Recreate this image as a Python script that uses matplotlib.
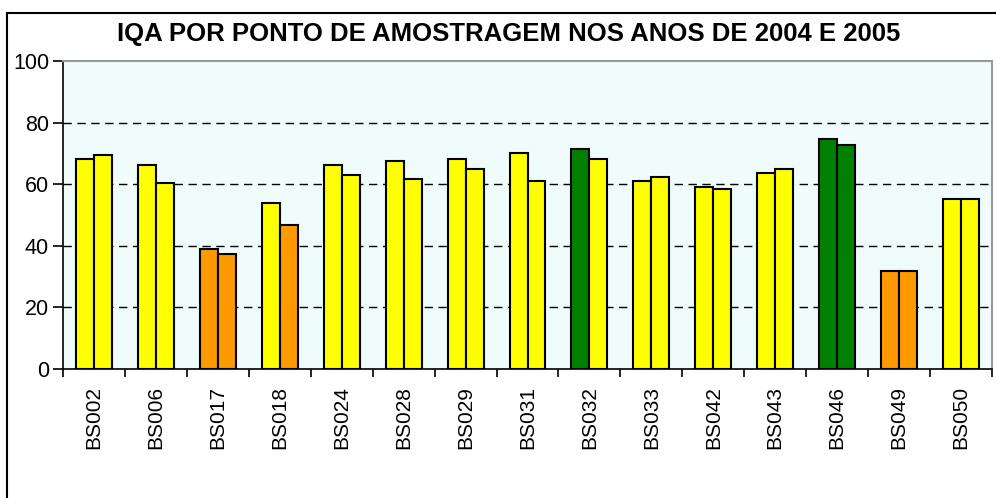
import numpy as np
import matplotlib
matplotlib.use('Agg')
import matplotlib.pyplot as plt
from matplotlib.lines import Line2D

plt.rcParams['font.family'] = ['Liberation Sans', 'DejaVu Sans']

# Dados IQA por ponto de amostragem
pontos = ['BS002', 'BS006', 'BS017', 'BS018', 'BS024', 'BS028', 'BS029', 'BS031',
          'BS032', 'BS033', 'BS042', 'BS043', 'BS046', 'BS049', 'BS050']
iqa_2004 = [68.1, 66.2, 39.0, 53.9, 66.2, 67.5, 68.1, 70.0,
            71.3, 60.9, 59.1, 63.5, 74.8, 31.7, 55.1]
iqa_2005 = [69.5, 60.4, 37.5, 46.6, 63.0, 61.7, 64.8, 60.9,
            68.1, 62.3, 58.3, 64.8, 72.7, 31.7, 55.1]


def cor_iqa(v):
    # faixas de qualidade
    if v > 70:
        return '#008000'
    if v > 50:
        return '#FFFF00'
    return '#FF9900'


fig = plt.figure(figsize=(9.96, 4.98), dpi=100)
ax = fig.add_axes([63 / 996, 1 - 369 / 498, (992 - 63) / 996, (369 - 61) / 498])

x = np.arange(len(pontos))
w = 0.29
ax.bar(x - w / 2, iqa_2004, w, color=[cor_iqa(v) for v in iqa_2004],
       edgecolor='black', linewidth=1.5, zorder=3)
ax.bar(x + w / 2, iqa_2005, w, color=[cor_iqa(v) for v in iqa_2005],
       edgecolor='black', linewidth=1.5, zorder=3)

ax.set_facecolor('#F0FBFB')
ax.set_xlim(-0.5, len(pontos) - 0.5)
ax.set_ylim(0, 100)
ax.set_yticks([0, 20, 40, 60, 80, 100])
for yv in [20, 40, 60, 80]:
    ax.axhline(yv, color='black', linestyle=(0, (6, 4)), linewidth=1.0, zorder=1)

ax.set_xticks(x)
ax.set_xticklabels(pontos, rotation=90, fontsize=15)
ax.tick_params(axis='x', length=0, pad=12)
ax.set_xticks(np.arange(len(pontos) + 1) - 0.5, minor=True)
ax.tick_params(axis='x', which='minor', length=6, width=1.2, direction='out', color='black')
ax.tick_params(axis='y', labelsize=15.5, length=7, width=1.2, direction='out', pad=3)

for s in ['top', 'right']:
    ax.spines[s].set_color('#999999')
    ax.spines[s].set_linewidth(1.5)
ax.spines['left'].set_color('black')
ax.spines['left'].set_linewidth(1.2)
ax.spines['bottom'].set_color('black')
ax.spines['bottom'].set_linewidth(1.2)

fig.text(509 / 996, 1 - 34 / 498, 'IQA POR PONTO DE AMOSTRAGEM NOS ANOS DE 2004 E 2005',
         ha='center', va='center', fontsize=18.5, fontweight='bold')

# moldura externa do gráfico
fig.add_artist(Line2D([7 / 996, 7 / 996], [0, 1 - 13 / 498], color='black', lw=1.5,
                      transform=fig.transFigure))
fig.add_artist(Line2D([7 / 996, 1], [1 - 13 / 498, 1 - 13 / 498], color='black', lw=1.5,
                      transform=fig.transFigure))

fig.savefig('out.png', dpi=100)
